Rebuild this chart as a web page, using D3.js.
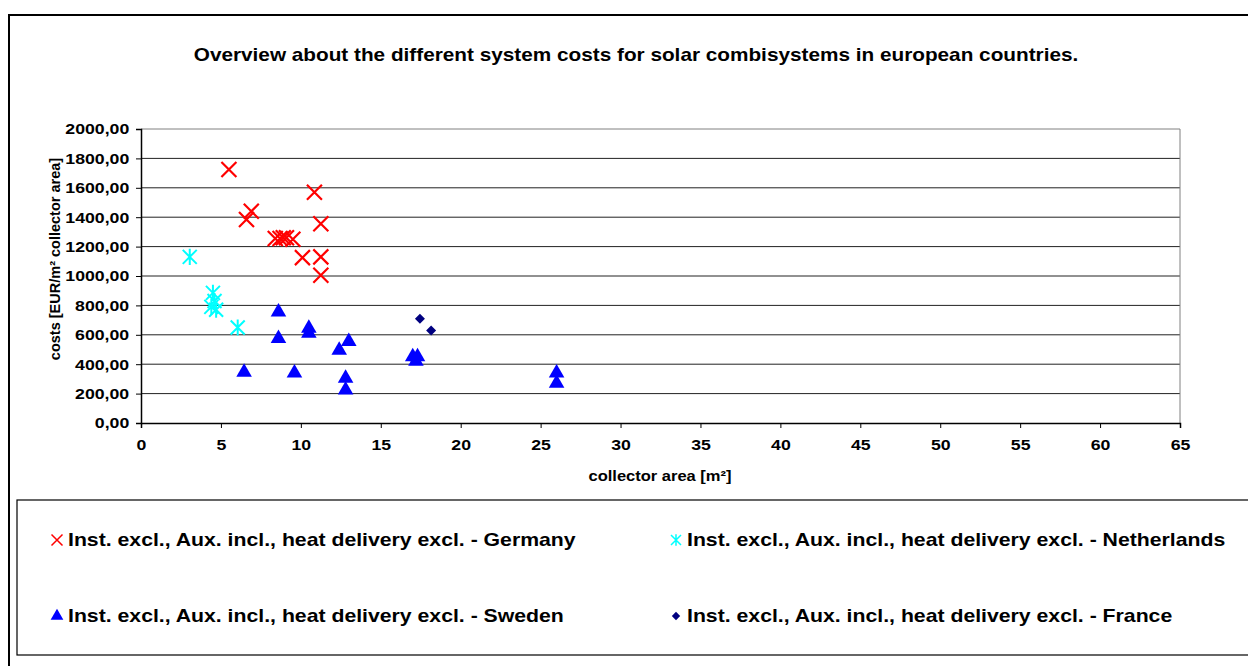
<!DOCTYPE html>
<html><head><meta charset="utf-8">
<script src="https://cdn.jsdelivr.net/npm/d3@7"></script>
<style>
html,body{margin:0;padding:0;background:#fff;}
svg text{font-family:"Liberation Sans",Arial,sans-serif;font-weight:bold;fill:#000;}
</style></head>
<body>
<svg id="chart" width="1248" height="666"></svg>
<script>
const titleText = "Overview about the different system costs for solar combisystems in european countries.";
const xTitle = "collector area [m²]";
const yTitle = "costs [EUR/m² collector area]";
const xTicks = [0,5,10,15,20,25,30,35,40,45,50,55,60,65];
const yTicks = [0,200,400,600,800,1000,1200,1400,1600,1800,2000];
const seriesNames = [
  "Inst. excl., Aux. incl., heat delivery excl. - Germany",
  "Inst. excl., Aux. incl., heat delivery excl. - Netherlands",
  "Inst. excl., Aux. incl., heat delivery excl. - Sweden",
  "Inst. excl., Aux. incl., heat delivery excl. - France"
];
const germanyX = [5.5, 10.85, 6.9, 6.6, 11.25, 8.4, 8.7, 8.9, 9.1, 9.5, 10.1, 11.25, 11.25];
const germanyY = [1725, 1570, 1440, 1385, 1355, 1255, 1255, 1260, 1260, 1250, 1125, 1130, 1005];
const netherlandsX = [3.05, 4.5, 4.6, 4.4, 4.7, 6.05];
const netherlandsY = [1130, 885, 830, 790, 770, 650];
const swedenX = [8.6, 8.6, 6.45, 9.6, 10.5, 10.5, 12.4, 13.0, 12.8, 12.8, 17.0, 17.3, 17.2, 26.0, 26.0];
const swedenY = [755, 575, 345, 340, 645, 610, 495, 555, 305, 225, 450, 450, 420, 340, 270];
const franceX = [17.45, 18.15];
const franceY = [710, 630];

const SX = 1.18; // horizontal text stretch of the original
const svg = d3.select("#chart");
const L = 141, R = 1180, T = 129, B = 423;
const x = d3.scaleLinear().domain([0,65]).range([L,R]);
const y = d3.scaleLinear().domain([0,2000]).range([B,T]);

// outer frame
svg.append("rect").attr("x",9).attr("y",15).attr("width",1260).attr("height",680)
  .attr("fill","none").attr("stroke","#000").attr("stroke-width",2);

// title
svg.append("text").attr("transform",`translate(636,61) scale(${SX},1)`).attr("text-anchor","middle")
  .style("font-size","17.6px").text(titleText);

// gridlines
svg.append("g").selectAll("line").data(yTicks.filter(d=>d>0)).join("line")
  .attr("x1",L).attr("x2",R).attr("y1",d=>y(d)).attr("y2",d=>y(d))
  .attr("stroke",d=>d===2000?"#808080":"#222").attr("stroke-width",1);
// right border
svg.append("line").attr("x1",R).attr("x2",R).attr("y1",T).attr("y2",B)
  .attr("stroke","#808080").attr("stroke-width",1);

// axes
const fmt = d => d3.format(".2f")(d).replace(".",",");
const yAxis = svg.append("g").attr("transform",`translate(${L},0)`)
  .call(d3.axisLeft(y).tickValues(yTicks).tickFormat(fmt).tickSize(5).tickPadding(5));
const xAxis = svg.append("g").attr("transform",`translate(0,${B})`)
  .call(d3.axisBottom(x).tickValues(xTicks).tickFormat(d3.format("d")).tickSize(5).tickPadding(11));
[yAxis,xAxis].forEach(a=>{
  a.select(".domain").attr("stroke","#000").attr("stroke-width",1.5);
  a.selectAll(".tick line").attr("stroke","#000");
  a.selectAll("text").style("font-size","15px").style("font-family","'Liberation Sans',Arial,sans-serif")
    .style("font-weight","bold").attr("transform",`scale(${SX},1)`);
});

// axis titles
svg.append("text").attr("transform",`translate(660,481) scale(${SX},1)`).attr("text-anchor","middle")
  .style("font-size","14px").text(xTitle);
svg.append("text").attr("transform","translate(60,259) rotate(-90)").attr("text-anchor","middle")
  .style("font-size","14.5px").text(yTitle);

// marker paths
const xPath = s => `M${-s},${-s}L${s},${s}M${-s},${s}L${s},${-s}`;
const starPath = s => `M${-s},${-s}L${s},${s}M${-s},${s}L${s},${-s}M0,${-s*1.15}L0,${s*1.15}`;
const tri = d3.symbol().type(d3.symbolTriangle);
const dia = d3.symbol().type(d3.symbolSquare);

const plot = svg.append("g");
const pts = (xs,ys)=>xs.map((v,i)=>[v,ys[i]]);

plot.selectAll(".ge").data(pts(germanyX,germanyY)).join("path")
  .attr("transform",d=>`translate(${x(d[0])},${y(d[1])})`)
  .attr("d",xPath(7.5)).attr("stroke","#ff0000").attr("stroke-width",2.2).attr("fill","none");
plot.selectAll(".nl").data(pts(netherlandsX,netherlandsY)).join("path")
  .attr("transform",d=>`translate(${x(d[0])},${y(d[1])})`)
  .attr("d",starPath(7)).attr("stroke","#00ffff").attr("stroke-width",2).attr("fill","none");
plot.selectAll(".se").data(pts(swedenX,swedenY)).join("path")
  .attr("transform",d=>`translate(${x(d[0])},${y(d[1])})`)
  .attr("d",tri.size(105)()).attr("fill","#0000ff");
plot.selectAll(".fr").data(pts(franceX,franceY)).join("path")
  .attr("transform",d=>`translate(${x(d[0])},${y(d[1])}) rotate(45)`)
  .attr("d",dia.size(50)()).attr("fill","#000080");

// legend
svg.append("rect").attr("x",17).attr("y",500).attr("width",1260).attr("height",155)
  .attr("fill","#fff").attr("stroke","#000").attr("stroke-width",1.2);
const legPos = [[57,540],[676,540],[57,616],[676,616]];
const leg = svg.append("g");
seriesNames.forEach((name,i)=>{
  const [lx,ly] = legPos[i];
  const g = leg.append("g").attr("transform",`translate(${lx},${ly})`);
  if(i===0) g.append("path").attr("d",xPath(5.5)).attr("stroke","#ff0000").attr("stroke-width",1.5).attr("fill","none");
  if(i===1) g.append("path").attr("d",starPath(5)).attr("stroke","#00ffff").attr("stroke-width",1.5).attr("fill","none");
  if(i===2) g.append("path").attr("d",tri.size(70)()).attr("fill","#0000ff");
  if(i===3) g.append("path").attr("d",dia.size(35)()).attr("transform","rotate(45)").attr("fill","#000080");
  g.append("text").attr("transform",`translate(11,6) scale(${SX},1)`).style("font-size","18px").text(name);
});
</script>
</body></html>
